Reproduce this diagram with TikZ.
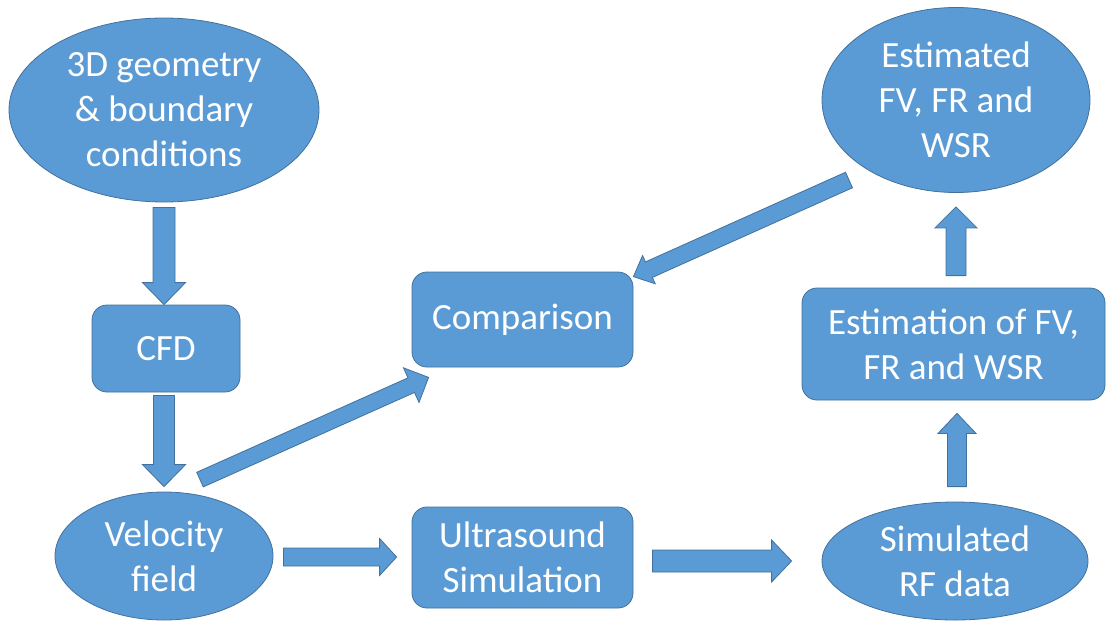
\documentclass[tikz,border=0pt]{standalone}
\usepackage{fontspec}
\setmainfont{Carlito}
\usetikzlibrary{shapes.geometric}
\usetikzlibrary{calc}
\definecolor{boxblue}{HTML}{5B9BD5}
\definecolor{edgeblue}{HTML}{41719C}
\tikzset{base/.style = {draw=edgeblue, fill=boxblue, line width=0.8pt, text=white,
                        align=center, inner sep=0pt,
                        font=\fontsize{37}{45}\selectfont},
         blob/.style = {base, ellipse},
         stage/.style = {base, rectangle, rounded corners=15pt},
         fatarrow/.style = {draw=edgeblue, fill=boxblue, line width=0.8pt}}
% block arrow: tail, tip, shaft width, head width, head length
\newcommand{\bigarrow}[5]{%
  \path let \p1 = ($#1$), \p2 = ($#2$) in
    \pgfextra{\pgfmathsetmacro{\arrang}{atan2(\y2-\y1,\x2-\x1)}%
              \pgfmathsetmacro{\arrlen}{veclen(\x2-\x1,\y2-\y1)}%
              \xdef\arrang{\arrang}\xdef\arrlen{\arrlen}%
              \xdef\arrx{\x1}\xdef\arry{\y1}};
  \draw [fatarrow, shift={(\arrx,\arry)}, rotate=\arrang]
    (0,-#3/2) -- ({\arrlen-#5},-#3/2) -- ({\arrlen-#5},-#4/2) -- (\arrlen,0)
    -- ({\arrlen-#5},#4/2) -- ({\arrlen-#5},#3/2) -- (0,#3/2) -- cycle;
}

\begin{document}
\begin{tikzpicture}[x=1pt, y=-1pt]
  \useasboundingbox (0,0) rectangle (1107,621);
  % left column
  \node [blob, minimum width=310pt, minimum height=184pt] (geo) at (164,110) {3D geometry\\\& boundary\\conditions};
  \node [stage, minimum width=148pt, minimum height=87pt] (cfd) at (166,348.5) {CFD};
  \node [blob, minimum width=218pt, minimum height=128pt] (vel) at (164,556) {Velocity\\field};
  % middle column
  \node [stage, minimum width=221pt, minimum height=95pt] (cmp) at (522.5,319.5) {Comparison};
  \node [stage, minimum width=221pt, minimum height=101pt] (us) at (522.5,557.5) {Ultrasound\\Simulation};
  % right column
  \node [blob, minimum width=268pt, minimum height=185pt] (est) at (956,100) {Estimated\\FV, FR and\\WSR};
  \node [stage, minimum width=303pt, minimum height=112pt] (estm) at (953.5,344) {Estimation of FV,\\FR and WSR};
  \node [blob, minimum width=266pt, minimum height=118pt] (rf) at (955,561) {Simulated\\RF data};

  \bigarrow{(geo.south)+(0,5)}{(geo.south |- cfd.north)}{22}{43}{22}
  \bigarrow{(vel.north |- cfd.south)+(0,3)}{(vel.north)+(0,-5)}{21}{43}{22}
  \bigarrow{(vel.north)+(36,-12)}{(cmp.south west)+(17,10)}{16}{38}{19}
  \bigarrow{(vel.east)+(10,1)}{(vel.east -| us.west)+(-15,1)}{18}{37}{17}
  \bigarrow{(us.east)+(19,3.5)}{(rf.west)+(-30,0)}{22}{42}{20}
  \bigarrow{(rf.north)+(2,-15)}{(rf.north |- estm.south)+(2,13)}{19}{38}{20}
  \bigarrow{(est.south |- estm.north)+(0,-12)}{(est.south)+(0,14)}{20}{42}{21}
  \bigarrow{(est.center)+(-107,80)}{(cmp.north east)+(0,5)}{17}{31}{17}
\end{tikzpicture}
\end{document}
